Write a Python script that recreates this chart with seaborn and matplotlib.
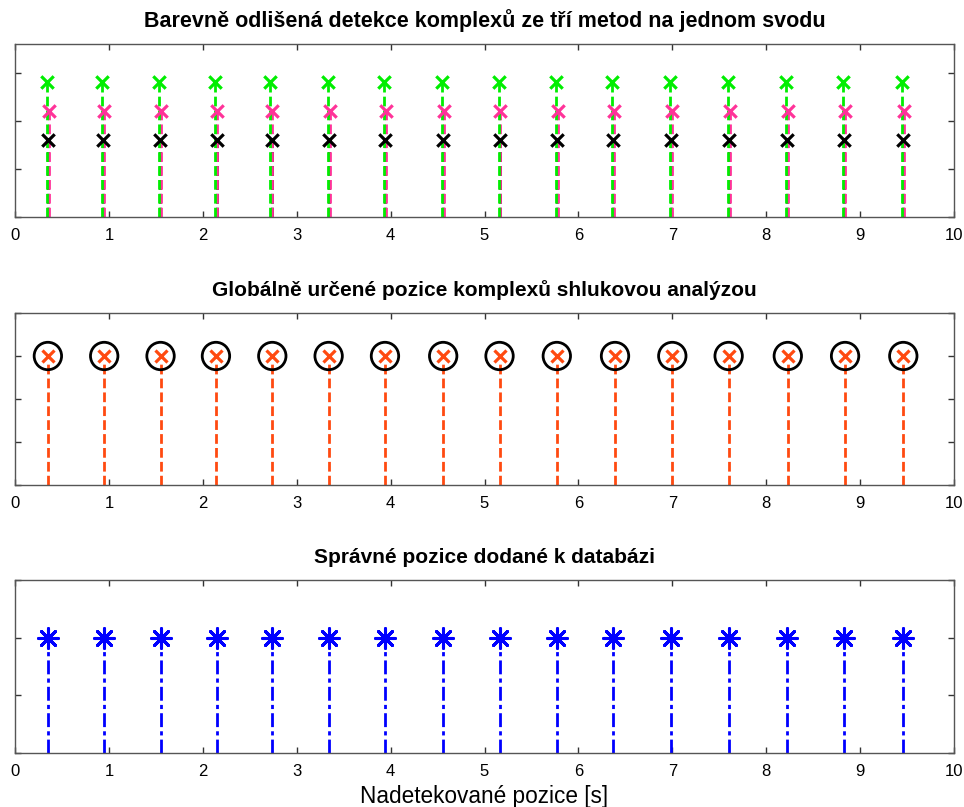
import matplotlib
matplotlib.use("Agg")
import matplotlib.pyplot as plt
import seaborn as sns
import pandas as pd

sns.set_theme(style="white")
plt.rcParams['font.family'] = ['Liberation Sans', 'DejaVu Sans']
plt.rcParams['text.color'] = 'black'

# ---- data ----
green_pos = [0.34, 0.93, 1.53, 2.13, 2.72, 3.33, 3.93, 4.55, 5.15, 5.76, 6.36, 6.98, 7.59, 8.21, 8.82, 9.45]
pink_pos = [0.36, 0.95, 1.55, 2.15, 2.74, 3.35, 3.95, 4.57, 5.17, 5.78, 6.38, 7.00, 7.61, 8.23, 8.84, 9.47]
black_pos = [0.35, 0.94, 1.54, 2.15, 2.74, 3.34, 3.94, 4.56, 5.17, 5.77, 6.37, 6.99, 7.60, 8.22, 8.83, 9.46]
green_val = 1.4
pink_val = 1.1
black_val = 0.8

global_pos = [0.35, 0.95, 1.55, 2.14, 2.74, 3.34, 3.94, 4.56, 5.16, 5.77, 6.39, 7.00, 7.60, 8.23, 8.84, 9.46]
global_val = 1.5

true_pos = [0.35, 0.95, 1.55, 2.15, 2.74, 3.34, 3.94, 4.56, 5.16, 5.77, 6.37, 6.99, 7.60, 8.22, 8.83, 9.46]
true_val = 1.0

titles = ["Barevně odlišená detekce komplexů ze tří metod na jednom svodu",
          "Globálně určené pozice komplexů shlukovou analýzou",
          "Správné pozice dodané k databázi"]
xlabel = "Nadetekované pozice [s]"
xticks = [0, 1, 2, 3, 4, 5, 6, 7, 8, 9, 10]

GREEN = "#00ee00"
PINK = "#ff3399"
ORANGE = "#ff4a10"
BLUE = "#0000ff"

fig = plt.figure(figsize=(9.64, 8.07), dpi=100)
W, H = 964, 807
def ax_at(left, top, right, bottom):
    return fig.add_axes([left / W, 1 - bottom / H, (right - left) / W, (bottom - top) / H])

ax1 = ax_at(15, 44, 954, 217)
ax2 = ax_at(15, 313, 954, 485)
ax3 = ax_at(15, 580, 954, 753)

def style(ax, ylim, yticks):
    ax.set_xlim(0, 10)
    ax.set_ylim(*ylim)
    ax.set_xticks(xticks)
    ax.set_xticklabels([str(t) for t in xticks], fontsize=12)
    ax.set_yticks(yticks)
    ax.set_yticklabels([])
    ax.tick_params(direction="in", length=4, width=1, color="#333333",
                   top=True, right=True, bottom=True, left=True, pad=8, labelcolor="black")
    for s in ax.spines.values():
        s.set_color("#555555")
        s.set_linewidth(1)
    ax.set_xlabel("")
    ax.set_ylabel("")
    ax.grid(False)

def stems(ax, pos, val, color, ls, z):
    ax.vlines(pos, 0, val, colors=color, linestyles=ls, linewidth=2, zorder=z)

DASH = (0, (3.5, 1.5))

# top panel
stems(ax1, black_pos, black_val, "black", DASH, 2)
stems(ax1, pink_pos, pink_val, PINK, DASH, 2.1)
stems(ax1, green_pos, green_val, GREEN, DASH, 2.2)
for pos, val, col in [(black_pos, black_val, "black"), (pink_pos, pink_val, PINK), (green_pos, green_val, GREEN)]:
    df = pd.DataFrame({"x": pos, "y": [val] * len(pos)})
    sns.scatterplot(data=df, x="x", y="y", ax=ax1, marker="x", s=80, color=col,
                    linewidth=2.3, zorder=3, legend=False)
style(ax1, (0, 1.8), [0, 0.5, 1.0, 1.5])
ax1.set_title(titles[0], fontsize=15.5, fontweight="bold", pad=12, color="black")

# middle panel
stems(ax2, global_pos, global_val - 0.08, ORANGE, DASH, 2)
df2 = pd.DataFrame({"x": global_pos, "y": [global_val] * len(global_pos)})
sns.scatterplot(data=df2, x="x", y="y", ax=ax2, marker="x", s=75, color=ORANGE,
                linewidth=2.3, zorder=3, legend=False)
sns.scatterplot(data=df2, x="x", y="y", ax=ax2, marker="o", s=390, facecolor="none",
                edgecolor="black", linewidth=2, zorder=4, legend=False)
style(ax2, (0, 2.0), [0, 0.5, 1.0, 1.5, 2.0])
ax2.set_title(titles[1], fontsize=15, fontweight="bold", pad=12, color="black")

# bottom panel
stems(ax3, true_pos, true_val, BLUE, (0, (5, 1.5, 1.5, 1.5)), 2)
df3 = pd.DataFrame({"x": true_pos, "y": [true_val] * len(true_pos)})
sns.scatterplot(data=df3, x="x", y="y", ax=ax3, marker=(8, 2, 0), s=200, color=BLUE,
                linewidth=2.2, zorder=3, legend=False)
style(ax3, (0, 1.5), [0, 0.5, 1.0, 1.5])
ax3.set_title(titles[2], fontsize=15, fontweight="bold", pad=12, color="black")
ax3.set_xlabel(xlabel, fontsize=16.3, labelpad=4, color="black")

fig.savefig("out.png", dpi=100, facecolor="white")
